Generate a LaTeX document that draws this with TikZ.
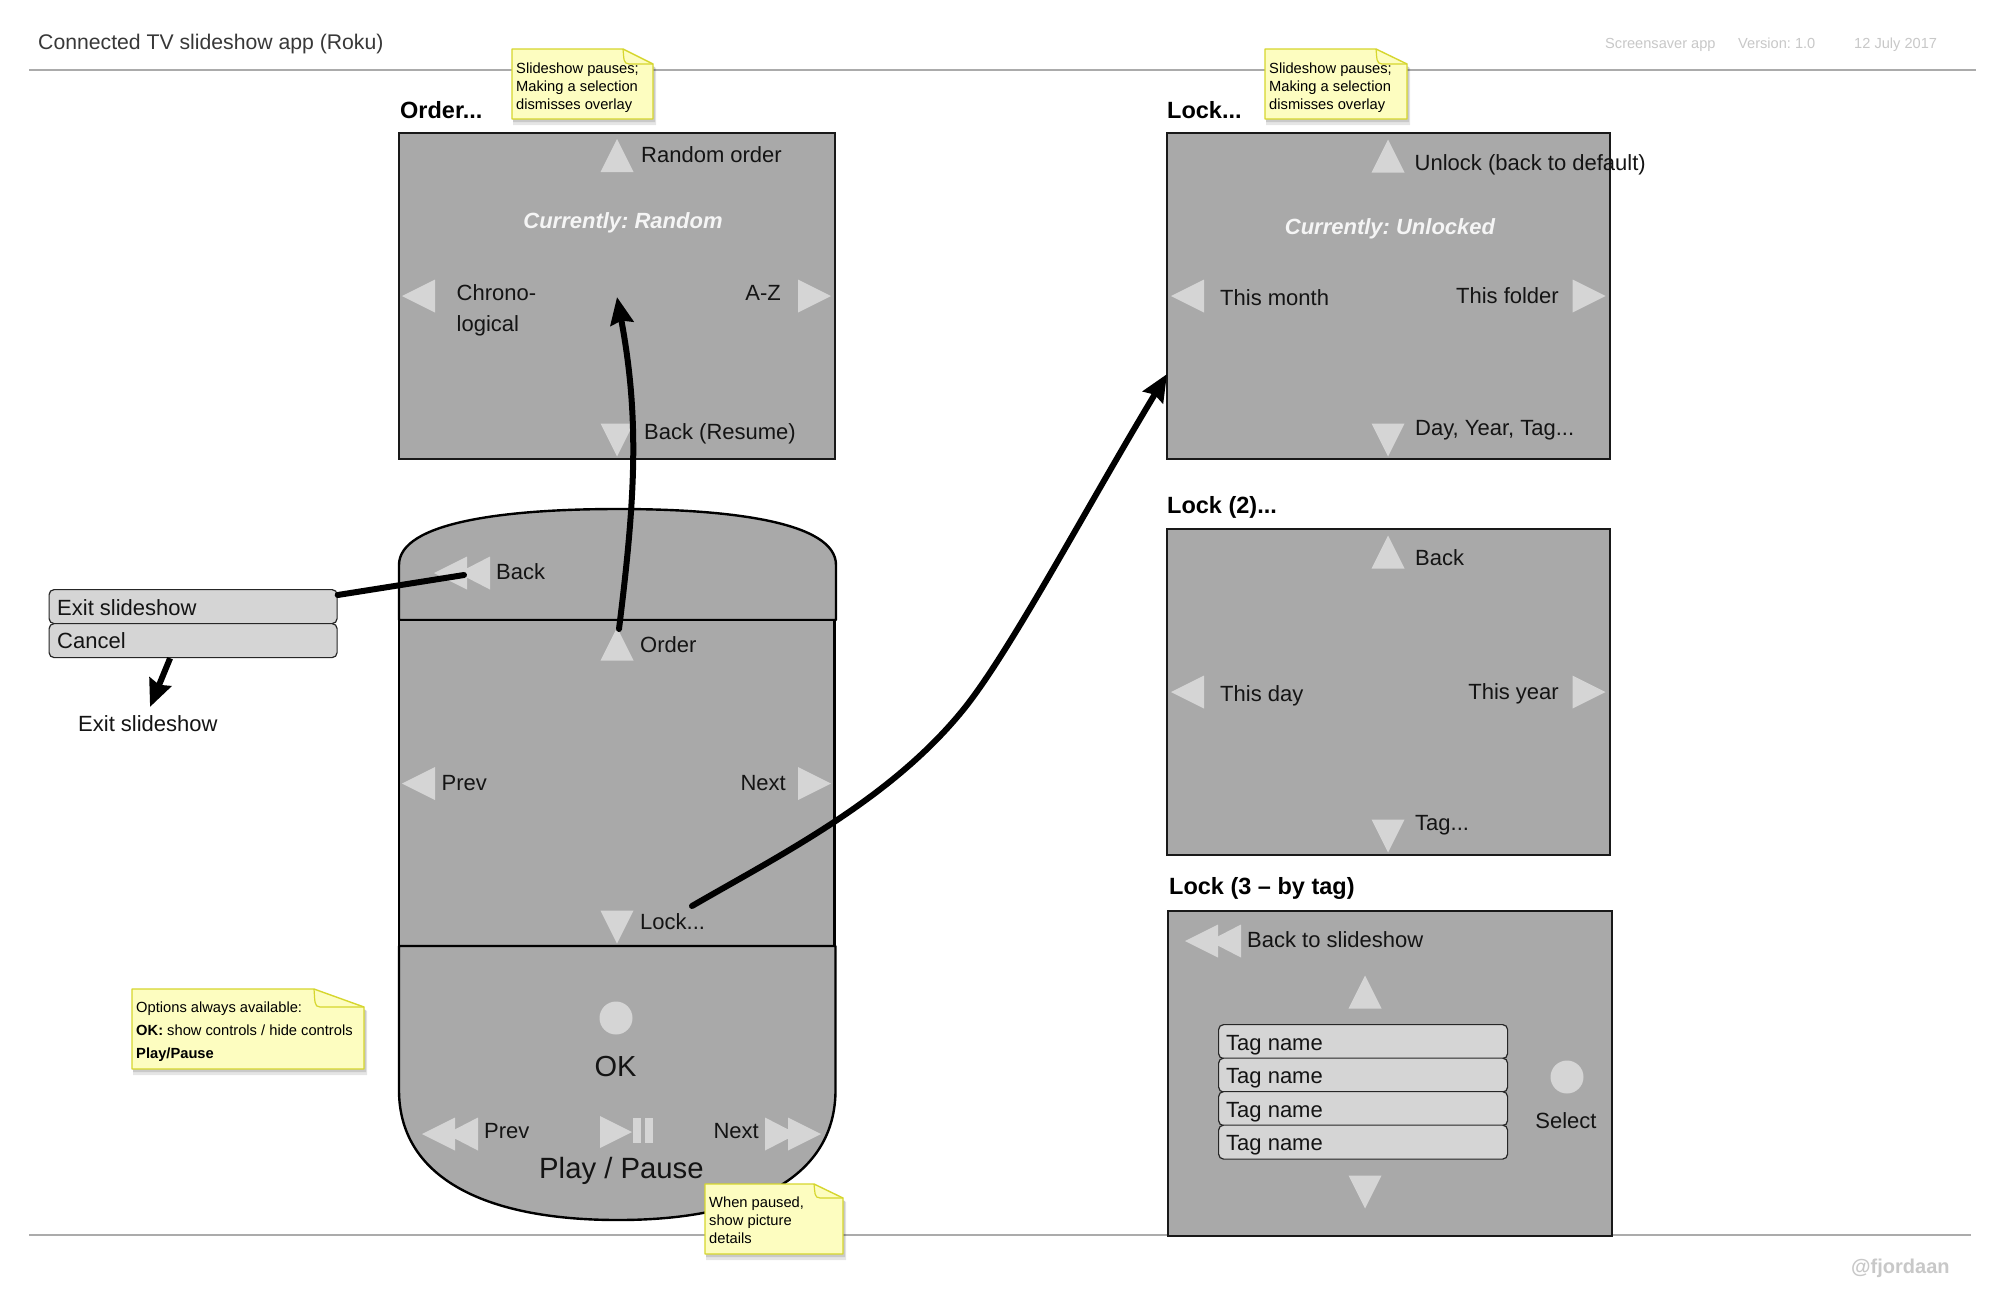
\documentclass[tikz,border=0pt]{standalone}
\usepackage{fontspec}
\setmainfont{Liberation Sans}
\usetikzlibrary{arrows.meta}
\definecolor{panel}{HTML}{A9A9A9}
\definecolor{btn}{HTML}{D5D5D5}
\definecolor{noteFill}{HTML}{FDFDC0}
\definecolor{noteLine}{HTML}{D6D62E}
\definecolor{rule}{HTML}{ABABAB}
\definecolor{faint}{HTML}{C8C8C8}
\tikzset{
  lbl/.style={inner sep=0pt,anchor=base west,font=\frenchspacing\fontsize{22}{26}\selectfont,text=black!92},
  lblr/.style={lbl,anchor=base east},
  head/.style={lbl,font=\frenchspacing\fontsize{23.5}{26}\selectfont\bfseries,text=black},
  cur/.style={lbl,anchor=base,font=\frenchspacing\fontsize{22}{26}\selectfont\bfseries\itshape,text=white!96!black},
  tiny/.style={lbl,font=\frenchspacing\fontsize{14.7}{18}\selectfont,text=black},
  hdr/.style={lbl,font=\frenchspacing\fontsize{14.6}{16}\selectfont,text=faint},
  panelbox/.style={draw=black!90,line width=1.1pt,fill=panel},
  remote/.style={draw=black,line width=2.4pt,fill=panel,line join=round},
  item/.style={draw=black!85,line width=1.2pt,fill=btn,rounded corners=5pt,inner sep=0pt,anchor=north west},
  flow/.style={line width=6pt,draw=black,-{Stealth[length=27pt,width=23pt,inset=3pt]}},
}
% triangles: centre x, centre y
\newcommand\tup[2]{\fill[btn] (#1,#2-16.5) -- (#1+16.5,#2+16.5) -- (#1-16.5,#2+16.5) -- cycle;}
\newcommand\tdn[2]{\fill[btn] (#1,#2+16.5) -- (#1+16.5,#2-16.5) -- (#1-16.5,#2-16.5) -- cycle;}
\newcommand\tlf[2]{\fill[btn] (#1-16.5,#2) -- (#1+16.5,#2-16.5) -- (#1+16.5,#2+16.5) -- cycle;}
\newcommand\trt[2]{\fill[btn] (#1+16.5,#2) -- (#1-16.5,#2-16.5) -- (#1-16.5,#2+16.5) -- cycle;}
\newcommand\rew[2]{\fill[btn] (#1,#2) -- (#1+33,#2-16.5) -- (#1+33,#2+16.5) -- cycle;
  \fill[btn] (#1+24,#2) -- (#1+56,#2-16.5) -- (#1+56,#2+16.5) -- cycle;}
\newcommand\ffw[2]{\fill[btn] (#1,#2-16.5) -- (#1+32,#2) -- (#1,#2+16.5) -- cycle;
  \fill[btn] (#1+23,#2-16.5) -- (#1+56,#2) -- (#1+23,#2+16.5) -- cycle;}
% note: x0 y0 x1 y1 foldx foldy
\newcommand\notebg[6]{
  \fill[black,opacity=.10] (#1+1,#2+4) -- (#5+2,#2+4) -- (#3+3,#6+4) -- (#3+3,#4+6) -- (#1+1,#4+6) -- cycle;
  \fill[black,opacity=.12] (#1+1,#2+3) -- (#5+1,#2+3) -- (#3+2,#6+3) -- (#3+2,#4+3) -- (#1+1,#4+3) -- cycle;
  \draw[fill=noteFill,draw=noteLine,line width=1.4pt,line join=round] (#1,#2) -- (#5,#2) -- (#3,#6) -- (#3,#4) -- (#1,#4) -- cycle;
  \draw[draw=noteLine,line width=1.2pt] (#5,#2) .. controls (#5+1,#6-6) and (#5,#6) .. (#5+6,#6) -- (#3,#6);
}
\begin{document}
\begin{tikzpicture}[x=1pt,y=-1pt]
\useasboundingbox (0,0) rectangle (2000,1294);
\fill[white] (0,0) rectangle (2000,1294);

% header and footer
\draw[rule,line width=1.2pt] (29,70) -- (1976,70);
\draw[rule,line width=1.2pt] (29,1235) -- (1971,1235);
\node[lbl,font=\fontsize{21.2}{26}\selectfont,text=black!78] (title) at (38,49) {Connected TV slideshow app (Roku)};
\node[hdr] (h1) at (1605,48) {Screensaver app};
\node[hdr] (h2) at (1738,48) {Version: 1.0};
\node[hdr] (h3) at (1854,48) {12 July 2017};
\node[lbl,font=\fontsize{20}{24}\selectfont\bfseries,text=faint] (credit) at (1851,1273) {@fjordaan};

% Order panel
\node[head] (orderT) at (400,118) {Order...};
\draw[panelbox] (399,133) rectangle (835,459);
\tup{617}{155.5}\tlf{418.5}{296}\trt{814.5}{296}\tdn{617}{440}
\node[lbl] (o1) at (641,162) {Random order};
\node[cur] (o2) at (623,228) {Currently: Random};
\node[lbl] (o3) at (456.5,300) {Chrono-};
\node[lbl] (o4) at (456.5,331) {logical};
\node[lblr] (o5) at (781,300) {A-Z};
\node[lbl] (o6) at (644,439) {Back (Resume)};

% Lock panel
\node[head] (lockT) at (1167,118) {Lock...};
\draw[panelbox] (1167,133) rectangle (1610,459);
\tup{1388}{156}\tlf{1187.5}{296}\trt{1589}{296}\tdn{1388}{440}
\node[lbl] (l1) at (1414.5,170) {Unlock (back to default)};
\node[cur] (l2) at (1390,234) {Currently: Unlocked};
\node[lbl] (l3) at (1220,305) {This month};
\node[lblr] (l4) at (1559,303) {This folder};
\node[lbl] (l5) at (1415,435) {Day, Year, Tag...};

% Lock 2 panel
\node[head] (lock2T) at (1167,513) {Lock (2)...};
\draw[panelbox] (1167,529) rectangle (1610,855);
\tup{1388}{552}\tlf{1187.5}{692}\trt{1589}{692}\tdn{1388}{836}
\node[lbl] (m1) at (1415,565) {Back};
\node[lbl] (m3) at (1220,701) {This day};
\node[lblr] (m4) at (1559,699) {This year};
\node[lbl] (m5) at (1415,830) {Tag...};

% Lock 3 panel
\node[head] (lock3T) at (1169,894) {Lock (3 – by tag)};
\draw[panelbox] (1168,911) rectangle (1612,1236);
\rew{1185}{941}\tup{1365}{992}\tdn{1365}{1192}
\node[lbl] (b1) at (1247,947) {Back to slideshow};
\node[item,minimum width=289pt,minimum height=34pt] (t1) at (1218,1024) {};
\node[item,minimum width=289pt,minimum height=34pt] (t2) at (1218,1057.5) {};
\node[item,minimum width=289pt,minimum height=34pt] (t3) at (1218,1091) {};
\node[item,minimum width=289pt,minimum height=34pt] (t4) at (1218,1124.5) {};
\node[lbl] (t1t) at (1226,1050) {Tag name};
\node[lbl] (t2t) at (1226,1083.5) {Tag name};
\node[lbl] (t3t) at (1226,1117) {Tag name};
\node[lbl] (t4t) at (1226,1150) {Tag name};
\fill[btn] (1567,1077) circle (16.5);
\node[lbl,anchor=base] (sel) at (1566,1128) {Select};

% Remote
\draw[remote] (399,620) -- (399,565) .. controls (399,522) and (506,509) .. (618,509)
  .. controls (730,509) and (836,522) .. (836,565) -- (836,620) -- cycle;
\draw[remote] (399,620) rectangle (834.5,946);
\draw[remote] (399,946) -- (399,1090) .. controls (399,1175) and (480,1220) .. (618,1220)
  .. controls (755,1220) and (835.5,1175) .. (835.5,1090) -- (835.5,946) -- cycle;
\rew{434}{573}
\tup{617}{644}\tlf{418.5}{783.5}\trt{814.5}{783.5}\tdn{617}{927}
\fill[btn] (616,1018) circle (16.5);
\rew{422}{1134}\ffw{765}{1134}
\fill[btn] (600,1116) -- (632,1132) -- (600,1148) -- cycle;
\fill[btn] (633,1118) rectangle (641,1143);
\fill[btn] (645,1118) rectangle (653,1143);
\node[lbl] (r1) at (496,579) {Back};
\node[lbl] (r2) at (640,652) {Order};
\node[lbl] (r3) at (441.5,790) {Prev};
\node[lblr] (r4) at (786,790) {Next};
\node[lbl] (r5) at (640,929) {Lock...};
\node[lbl,anchor=base,font=\fontsize{29}{32}\selectfont] (r6) at (615.5,1076) {OK};
\node[lbl] (r7) at (484,1138.5) {Prev};
\node[lblr] (r8) at (759,1138.5) {Next};
\node[lbl,font=\fontsize{29.3}{32}\selectfont] (r9) at (539,1178) {Play / Pause};

% Exit menu
\node[item,minimum width=288pt,minimum height=34pt] (menuExit) at (48.5,589) {};
\node[item,minimum width=288pt,minimum height=34pt] (menuCancel) at (48.5,623) {};
\node[lbl] (e1) at (57,615) {Exit slideshow};
\node[lbl] (e2) at (57,648.5) {Cancel};
\node[lbl] (e3) at (78,731.5) {Exit slideshow};

% Connectors
\coordinate (backHit) at (464,575);
\coordinate (exitHit) at (150,707);
\coordinate (orderHit) at (619,629);
\coordinate (orderTip) at (617,297);
\coordinate (lockHit) at (692,906);
\coordinate (lockTip) at (1167,374);
\coordinate (lockVia) at (963,710);
\draw[line width=6pt,line cap=round] ([yshift=-6pt]menuExit.north east) -- (backHit);
\draw[flow] ([xshift=-23pt]menuCancel.south) -- (exitHit);
\draw[flow,line cap=round] (orderHit) .. controls (635,500) and (640,420) .. (orderTip);
\draw[flow,line cap=round] (lockHit) .. controls (780,855) and (890,800) .. (lockVia) .. controls (1010,652) and (1085,510) .. (lockTip);

% Notes
\notebg{512}{49}{653}{119}{623}{64}
\node[tiny] (n1a) at (516,73) {Slideshow pauses;};
\node[tiny] (n1b) at (516,91) {Making a selection};
\node[tiny] (n1c) at (516,109) {dismisses overlay};
\notebg{1265}{49}{1407}{119}{1376}{64}
\node[tiny] (n2a) at (1269,73) {Slideshow pauses;};
\node[tiny] (n2b) at (1269,91) {Making a selection};
\node[tiny] (n2c) at (1269,109) {dismisses overlay};
\notebg{132}{989}{364}{1069}{314}{1007}
\node[tiny] (n3a) at (136,1012) {Options always available:};
\node[tiny] (n3b) at (136,1035) {\bfseries OK: \mdseries show controls / hide controls};
\node[tiny] (n3c) at (136,1058) {\bfseries Play/Pause};
\notebg{705}{1184}{843}{1254}{814}{1198}
\node[tiny] (n4a) at (709,1207) {When paused,};
\node[tiny] (n4b) at (709,1225) {show picture};
\node[tiny] (n4c) at (709,1243) {details};
\end{tikzpicture}
\end{document}
